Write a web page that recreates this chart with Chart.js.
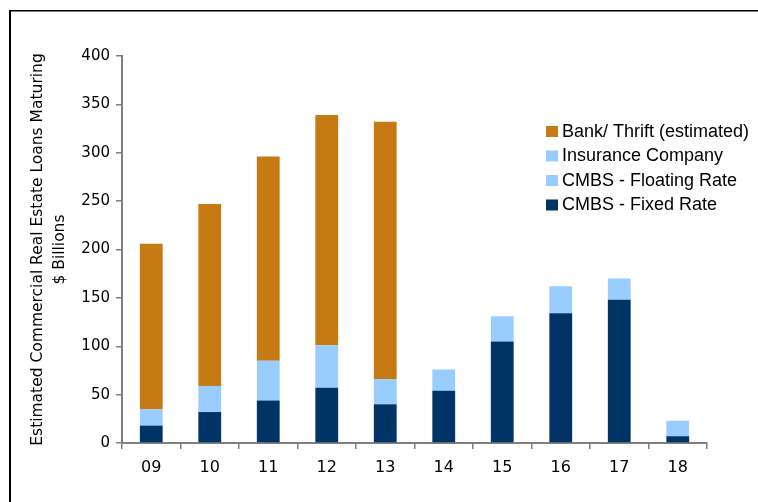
<!DOCTYPE html>
<html>
<head>
<meta charset="utf-8">
<script src="https://cdn.jsdelivr.net/npm/chart.js@4.4.0/dist/chart.umd.min.js"></script>
<style>
  html, body { margin: 0; padding: 0; background: #fff; }
  #wrap { width: 758px; height: 502px; }
</style>
</head>
<body>
<div id="wrap"><canvas id="loanChart" width="758" height="502"></canvas></div>
<script>
// data ($ billions)
var years = ['09', '10', '11', '12', '13', '14', '15', '16', '17', '18'];
var cmbsFixed = [18, 32, 44, 57, 40, 54, 105, 134, 148, 7];
var cmbsFloating = [17, 27, 41, 44, 26, 22, 26, 28, 22, 16];
var insurance = [0, 0, 0, 0, 0, 0, 0, 0, 0, 0];
var bankThrift = [171, 188, 211, 238, 266, 0, 0, 0, 0, 0];
var yTicks = [0, 50, 100, 150, 200, 250, 300, 350, 400];

var NAVY = '#003366';
var LIGHT = '#99CCFF';
var ORANGE = '#C57A14';
var AXIS = '#7f7f7f';

// border lines round the picture
var framePlugin = {
  id: 'frame',
  afterDraw: function(chart) {
    var ctx = chart.ctx;
    ctx.save();
    ctx.fillStyle = '#000';
    ctx.fillRect(9, 10, 2, 492);
    ctx.fillRect(9, 10, 749, 1.5);
    ctx.restore();
  }
};

// legend inside the plot, top to bottom = reverse stack order
var legendPlugin = {
  id: 'innerLegend',
  afterDraw: function(chart) {
    var ctx = chart.ctx;
    var sets = chart.data.datasets.slice().reverse();
    ctx.save();
    ctx.font = '18px "Liberation Sans", Arial, sans-serif';
    ctx.textBaseline = 'middle';
    for (var i = 0; i < sets.length; i++) {
      var y = 131 + i * 24.5;
      ctx.fillStyle = sets[i].backgroundColor;
      ctx.fillRect(546, y - 5, 12, 11);
      ctx.fillStyle = '#000';
      ctx.fillText(sets[i].label, 562, y + 1);
    }
    ctx.restore();
  }
};

function barChart() {
  var ctx = document.getElementById('loanChart').getContext('2d');
  var common = { barPercentage: 0.39, categoryPercentage: 1.0, borderWidth: 0 };
  myChart = new Chart(ctx, {
    type: 'bar',
    data: {
      labels: years,
      datasets: [
        Object.assign({ label: 'CMBS - Fixed Rate', data: cmbsFixed, backgroundColor: NAVY }, common),
        Object.assign({ label: 'CMBS - Floating Rate', data: cmbsFloating, backgroundColor: LIGHT }, common),
        Object.assign({ label: 'Insurance Company', data: insurance, backgroundColor: LIGHT }, common),
        Object.assign({ label: 'Bank/ Thrift (estimated)', data: bankThrift, backgroundColor: ORANGE }, common)
      ]
    },
    options: {
      responsive: false,
      animation: false,
      layout: { padding: { left: 0, right: 51, top: 56, bottom: 0 } },
      plugins: {
        legend: { display: false },
        tooltip: { enabled: false }
      },
      scales: {
        x: {
          stacked: true,
          afterFit: function(s) { s.height = 59; },
          grid: {
            offset: true,
            drawOnChartArea: false,
            drawTicks: true,
            tickLength: 6,
            color: AXIS,
            lineWidth: 1.5
          },
          border: { display: true, color: AXIS, width: 2 },
          ticks: {
            color: '#000',
            padding: 9,
            font: { family: '"DejaVu Sans", sans-serif', size: 16 }
          }
        },
        y: {
          stacked: true,
          min: 0,
          max: 400,
          afterFit: function(s) { s.width = 122; },
          afterBuildTicks: function(s) {
            s.ticks = yTicks.map(function(v) { return { value: v }; });
          },
          grid: {
            drawOnChartArea: false,
            drawTicks: true,
            tickLength: 6,
            color: AXIS,
            lineWidth: 1.5
          },
          border: { display: true, color: AXIS, width: 2 },
          ticks: {
            color: '#000',
            padding: 6,
            font: { family: '"DejaVu Sans", sans-serif', size: 15 }
          },
          title: {
            display: true,
            text: ['Estimated Commercial Real Estate Loans Maturing', '$ Billions'],
            color: '#000',
            padding: { top: 27, bottom: 0 },
            font: { family: '"DejaVu Sans", sans-serif', size: 15.5, lineHeight: 1.4 }
          }
        }
      }
    },
    plugins: [framePlugin, legendPlugin]
  });
}

barChart();
</script>
</body>
</html>
